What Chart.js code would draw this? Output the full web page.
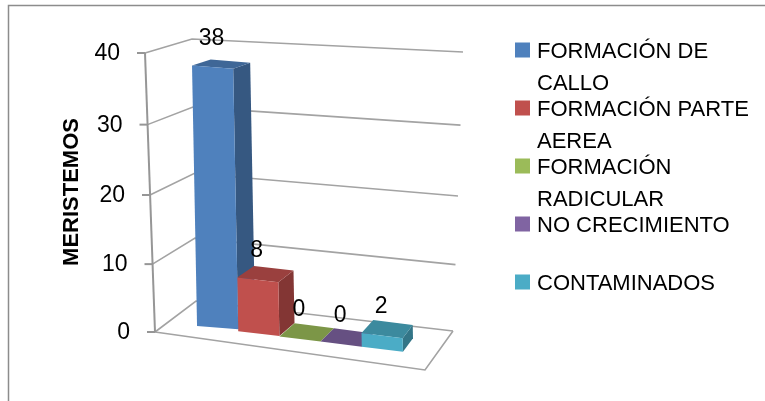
<!DOCTYPE html>
<html>
<head>
<meta charset="utf-8">
<script src="https://cdn.jsdelivr.net/npm/chart.js@4.4.1/dist/chart.umd.min.js"></script>
<style>
  html, body { margin: 0; padding: 0; background: #fff; overflow: hidden; }
  canvas { display: block; }
</style>
</head>
<body>
<canvas id="chart" width="765" height="401"></canvas>
<script>
// Series (one bar per outcome)
const categories = ['FORMACIÓN DE CALLO', 'FORMACIÓN PARTE AEREA', 'FORMACIÓN RADICULAR', 'NO CRECIMIENTO', 'CONTAMINADOS'];
const legendLines = [['FORMACIÓN DE', 'CALLO'], ['FORMACIÓN PARTE', 'AEREA'], ['FORMACIÓN', 'RADICULAR'], ['NO CRECIMIENTO'], ['CONTAMINADOS']];
const meristemos = [38, 8, 0, 0, 2];
const colors = ['#4F81BD', '#C0504D', '#9BBB59', '#8064A2', '#4BACC6'];
const yTicks = [0, 10, 20, 30, 40];
const axisTitle = 'MERISTEMOS';

const FONT = '"Liberation Sans", Arial, sans-serif';

function shade(hex, f) {
  const n = parseInt(hex.slice(1), 16);
  const r = (n >> 16) & 255, g = (n >> 8) & 255, b = n & 255;
  return `rgb(${Math.round(r * f)},${Math.round(g * f)},${Math.round(b * f)})`;
}

// Oblique projection of the bar plane (scale pixels -> screen)
function proj(ca, x, y) {
  const H = ca.bottom - ca.top;
  const t = (ca.bottom - y) / H;
  const u = x - ca.left;
  const slope = 0.126 - 0.051 * t;
  return {
    x: x - 5.3 * t,
    y: ca.bottom - 11.3 - 0.9766 * H * t + slope * u + 10 * t * (1 - t)
  };
}
// Depth offset for top / side faces
function depth(p) {
  return { x: 17 - 0.041 * (p.x - 233), y: -6 - 0.0262 * (p.y - 66) };
}
// Walls: front-left edge, back-left edge, back-right edge at fraction t of the value range
function wallF(ca, t) { return { x: ca.left - 10 * t, y: ca.bottom - 279 * t + 10 * t * (1 - t) }; }
function wallB(ca, t) { return { x: ca.left + 41 - 4 * t, y: ca.bottom - 31 - 262 * t + 14 * t * (1 - t) }; }
function wallR(ca, t) { return { x: ca.left + 298 + 10 * t, y: ca.bottom - 1 - 279 * t + 18 * t * (1 - t) }; }

function barGeom(chart, i) {
  const ca = chart.chartArea;
  const el = chart.getDatasetMeta(i).data[0];
  const { x, y, base, width } = el.getProps(['x', 'y', 'base', 'width'], true);
  const x0 = x - width / 2, x1 = x + width / 2;
  const TL = proj(ca, x0, y), TR = proj(ca, x1, y), BL = proj(ca, x0, base);
  const BR = { x: TR.x + BL.x - TL.x, y: TR.y + BL.y - TL.y };
  return { x, y, base, width, x0, TL, TR, BL, BR };
}

function poly(ctx, pts, fill) {
  ctx.beginPath();
  ctx.moveTo(pts[0].x, pts[0].y);
  for (let k = 1; k < pts.length; k++) ctx.lineTo(pts[k].x, pts[k].y);
  ctx.closePath();
  ctx.fillStyle = fill;
  ctx.fill();
}

const scenePlugin = {
  id: 'scene3d',
  beforeDatasetsDraw(chart) {
    const ctx = chart.ctx, ca = chart.chartArea, ys = chart.scales.y;
    const H = ca.bottom - ca.top;
    ctx.save();

    // outer frame
    ctx.strokeStyle = '#8c8c8c';
    ctx.lineWidth = 1.5;
    ctx.strokeRect(8.5, 5.5, 800, 500);

    // gridlines on side and back walls
    ctx.strokeStyle = '#a3a3a3';
    ctx.lineWidth = 1.6;
    yTicks.forEach(v => {
      const t = (ca.bottom - ys.getPixelForValue(v)) / H;
      const f = wallF(ca, t), b = wallB(ca, t), r = wallR(ca, t);
      ctx.beginPath();
      ctx.moveTo(f.x, f.y); ctx.lineTo(b.x, b.y); ctx.lineTo(r.x, r.y);
      ctx.stroke();
    });
    // floor outline
    const f0 = wallF(ca, 0), r0 = wallR(ca, 0);
    const fr = { x: ca.left + 270, y: ca.bottom + 38 };
    ctx.beginPath();
    ctx.moveTo(f0.x, f0.y); ctx.lineTo(fr.x, fr.y); ctx.lineTo(r0.x, r0.y);
    ctx.stroke();

    // vertical axis line and tick marks
    const top = wallF(ca, 1);
    ctx.strokeStyle = '#969696';
    ctx.lineWidth = 2;
    ctx.beginPath();
    ctx.moveTo(top.x, top.y); ctx.lineTo(f0.x, f0.y);
    ctx.stroke();
    ctx.fillStyle = '#000';
    ctx.font = `23px ${FONT}`;
    ctx.textAlign = 'right';
    ctx.textBaseline = 'middle';
    yTicks.forEach(v => {
      const t = (ca.bottom - ys.getPixelForValue(v)) / H;
      const f = wallF(ca, t);
      ctx.beginPath();
      ctx.moveTo(f.x - 8, f.y); ctx.lineTo(f.x, f.y);
      ctx.stroke();
      ctx.fillText(String(v), f.x - 25, f.y + 1);
    });

    // axis title
    ctx.save();
    ctx.translate(72, 192);
    ctx.rotate(-Math.PI / 2);
    ctx.textAlign = 'center';
    ctx.font = `bold 22px ${FONT}`;
    ctx.fillText(axisTitle, 0, 0);
    ctx.restore();

    // legend
    ctx.font = `22px ${FONT}`;
    ctx.textAlign = 'left';
    ctx.textBaseline = 'alphabetic';
    legendLines.forEach((lines, i) => {
      const cy = 50 + 58 * i;
      ctx.fillStyle = colors[i];
      ctx.fillRect(515, cy - 7.5, 15, 15);
      ctx.fillStyle = '#000';
      lines.forEach((txt, k) => ctx.fillText(txt, 537, cy + 8 + 31.5 * k));
    });

    // side and top faces of the bars
    meristemos.forEach((v, i) => {
      const g = barGeom(chart, i);
      if (g.base - g.y > 0.5) {
        const dTR = depth(g.TR), dBR = depth(g.BR);
        poly(ctx, [g.TR, g.BR, { x: g.BR.x + dBR.x, y: g.BR.y + dBR.y }, { x: g.TR.x + dTR.x, y: g.TR.y + dTR.y }], shade(colors[i], 0.68));
      }
      const dTL = depth(g.TL), dTR = depth(g.TR);
      poly(ctx, [g.TL, g.TR, { x: g.TR.x + dTR.x, y: g.TR.y + dTR.y }, { x: g.TL.x + dTL.x, y: g.TL.y + dTL.y }], shade(colors[i], 0.8));
    });
    ctx.restore();
  },
  beforeDatasetDraw(chart, args) {
    const g = barGeom(chart, args.index);
    const h = g.base - g.y;
    args.meta._sceneSaved = false;
    if (h <= 0.5) return;
    const m11 = (g.TR.x - g.TL.x) / g.width, m12 = (g.TR.y - g.TL.y) / g.width;
    const m21 = (g.BL.x - g.TL.x) / h, m22 = (g.BL.y - g.TL.y) / h;
    const dx = g.TL.x - m11 * g.x0 - m21 * g.y;
    const dy = g.TL.y - m12 * g.x0 - m22 * g.y;
    chart.ctx.save();
    chart.ctx.transform(m11, m12, m21, m22, dx, dy);
    args.meta._sceneSaved = true;
  },
  afterDatasetDraw(chart, args) {
    if (args.meta._sceneSaved) chart.ctx.restore();
  },
  afterDatasetsDraw(chart) {
    const ctx = chart.ctx, ca = chart.chartArea;
    ctx.save();
    ctx.fillStyle = '#000';
    ctx.font = `23px ${FONT}`;
    ctx.textAlign = 'center';
    ctx.textBaseline = 'middle';
    meristemos.forEach((v, i) => {
      const g = barGeom(chart, i);
      const p = proj(ca, g.x, g.y);
      ctx.fillText(String(v), p.x - 1, p.y - 29);
    });
    ctx.restore();
  }
};

new Chart(document.getElementById('chart'), {
  type: 'bar',
  data: {
    labels: [''],
    datasets: categories.map((c, i) => ({
      label: c,
      data: [meristemos[i]],
      backgroundColor: colors[i],
      borderWidth: 0
    }))
  },
  options: {
    responsive: false,
    animation: false,
    devicePixelRatio: 1,
    layout: { padding: { left: 155, top: 53, right: 320, bottom: 69 } },
    datasets: { bar: { categoryPercentage: 0.71, barPercentage: 1, clip: false } },
    scales: {
      x: { display: false },
      y: { display: false, min: 0, max: 40, ticks: { stepSize: 10 } }
    },
    plugins: { legend: { display: false }, tooltip: { enabled: false } }
  },
  plugins: [scenePlugin]
});
</script>
</body>
</html>
